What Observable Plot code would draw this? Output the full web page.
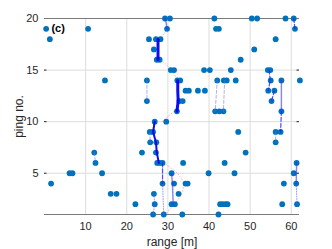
<!DOCTYPE html>
<html>
<head>
<meta charset="utf-8">
<script src="https://cdn.jsdelivr.net/npm/d3@7"></script>
<script src="https://cdn.jsdelivr.net/npm/@observablehq/plot@0.6"></script>
<style>
  html, body { margin: 0; padding: 0; background: #fff; }
</style>
</head>
<body>
<div id="chart"></div>
<script>
// ---- data ----
const pings = [20,19,18,17,16,15,14,13,12,11,10,9,8,7,6,5,4,3,2,1];
const rangesByPing = [
  [29.3, 30.5, 41.3, 50.4, 51.7, 58.6, 60.6],                    // 20
  [0.4, 10.6, 29.8, 41.7, 42.4, 60.9],                           // 19
  [1.3, 25.4, 27.1, 28.2, 56.2],                                 // 18
  [26.6, 51.0],                                                  // 17
  [27.3, 28.0, 47.7],                                            // 16
  [30.7, 31.5, 38.8, 40.2, 45.3, 54.3, 54.9],                    // 15
  [14.7, 24.9, 32.3, 33.0, 42.0, 43.6, 44.3, 46.5, 55.0, 57.6, 62.1], // 14
  [34.3, 35.1, 37.3, 39.0, 54.4, 55.9],                          // 13
  [24.9, 32.8, 33.6, 55.2],                                      // 12
  [32.2, 41.5, 42.5, 43.5, 57.6],                                // 11
  [26.8, 29.6],                                                  // 10
  [25.6, 26.4, 47.1, 56.2, 57.4],                                // 9
  [25.7, 27.2, 56.2],                                            // 8
  [12.1, 23.7, 27.1, 48.9],                                      // 7
  [12.4, 27.4, 28.0, 28.7, 33.7, 43.8, 61.3],                    // 6
  [6.1, 6.8, 14.0, 30.9, 39.9, 46.2, 60.6],                      // 5
  [1.6, 28.7, 31.5, 34.3, 34.8, 58.2, 61.2],                     // 4
  [16.1, 17.5, 26.6, 32.6],                                      // 3
  [22.1, 26.8, 30.9, 31.7, 42.7, 43.3, 44.0, 44.5, 57.8, 61.4],  // 2
  [26.4, 29.0, 33.5, 42.3]                                       // 1
];

// tracks: lists of [ping, range]
const heavyTracks = [
  [[18,27.6],[17,27.6],[16,27.6]],
  [[14,32.4],[13,32.4],[12,32.5],[11,32.2]]
];
const thickTracks = [
  [[10,26.8],[9,26.4],[8,27.1],[7,27.3],[6,27.8]]
];
const solidTracks = [
  [[5,30.9],[4,31.1],[3,31.2],[2,31.3]],
  [[14,57.6],[11,57.6]],
  [[6,61.3],[4,61.2]],
  [[20,29.4],[19,29.8]]
];
const dashedTracks = [
  [[11,57.6],[9,57.4]],
  [[15,54.6],[14,54.9],[13,54.4]],
  [[20,60.6],[19,60.9]],
  [[6,28.7],[4,28.7]],
  [[13,55.9],[12,55.2]]
];
const faintDashedTracks = [
  [[14,42.0],[11,41.5]],
  [[14,43.8],[11,43.5]],
  [[14,24.9],[12,24.9]],
  [[7,12.1],[6,12.4]],
  [[9,25.6],[8,25.7]],
  [[9,56.2],[8,56.2]]
];
const dottedTracks = [
  [[4,61.2],[2,61.4]],
  [[4,28.7],[1,29.0]],
  [[3,26.6],[2,26.8],[1,26.4]]
];
const pinkTracks = [
  [[19,29.8],[18,28.2]],
  [[16,28.3],[15,30.9],[14,32.3]],
  [[11,31.5],[10,28.6]],
  [[6,29.0],[5,32.3],[4,33.8],[3,33.3],[2,31.6],[1,29.3]]
];

const xTicks = [10, 20, 30, 40, 50, 60];
const yTicks = [5, 10, 15, 20];

// ---- build tables ----
const detections = pings.flatMap((p, i) => rangesByPing[i].map(r => ({ping: p, range: r})));
const toRows = (tracks) => tracks.flatMap((t, k) => t.map(([p, r]) => ({track: k, ping: p, range: r})));

const font = "'Liberation Sans', Arial, Helvetica, sans-serif";

const chart = Plot.plot({
  width: 332,
  height: 249,
  marginLeft: 44,
  marginRight: 33,
  marginTop: 18,
  marginBottom: 35,
  style: {fontFamily: font, fontSize: "11px", color: "#262626", background: "#fff"},
  x: {domain: [0, 62]},
  y: {domain: [1, 20]},
  marks: [
    Plot.gridX(xTicks, {stroke: "#dcdcdc", strokeOpacity: 1}),
    Plot.gridY(yTicks, {stroke: "#dcdcdc", strokeOpacity: 1}),
    Plot.ruleY([20, 1], {stroke: "#7a7a7a", strokeWidth: 1}),
    Plot.ruleY(yTicks.filter(d => d > 1 && d < 20), {x1: 0, x2: 0.6, stroke: "#262626"}),
    Plot.ruleY(yTicks.filter(d => d > 1 && d < 20), {x1: 61.4, x2: 62, stroke: "#262626"}),
    Plot.axisX(xTicks, {tickSize: 0, tickPadding: 8, fontSize: 11, fill: "#262626",
      label: null}),
    Plot.axisY(yTicks, {tickSize: 0, tickPadding: 6, fontSize: 11, fill: "#262626",
      label: null}),
    Plot.axisX({ticks: [], tickSize: 0, label: "range [m]", labelAnchor: "center", labelArrow: "none",
      labelOffset: 31, fontSize: 12, fill: "#262626"}),
    Plot.axisY({ticks: [], tickSize: 0, label: "ping no.", labelAnchor: "center", labelArrow: "none",
      labelOffset: 30, fontSize: 12, fill: "#262626"}),
    Plot.line(toRows(pinkTracks), {x: "range", y: "ping", z: "track", stroke: "#ff6666",
      strokeOpacity: 0.45, strokeWidth: 1, strokeDasharray: "1,2", curve: "catmull-rom"}),
    Plot.dot(detections, {x: "range", y: "ping", r: 2.9, fill: "#0072BD", stroke: "none"}),
    Plot.line(toRows(faintDashedTracks), {x: "range", y: "ping", z: "track", stroke: "#6a6aff",
      strokeOpacity: 0.55, strokeWidth: 1, strokeDasharray: "3,2"}),
    Plot.line(toRows(dottedTracks), {x: "range", y: "ping", z: "track", stroke: "#5a5aff",
      strokeOpacity: 0.6, strokeWidth: 1, strokeDasharray: "1,1.5"}),
    Plot.line(toRows(dashedTracks), {x: "range", y: "ping", z: "track", stroke: "#2020ff",
      strokeOpacity: 0.8, strokeWidth: 1.2, strokeDasharray: "4,2"}),
    Plot.line(toRows(solidTracks), {x: "range", y: "ping", z: "track", stroke: "#3030ff",
      strokeOpacity: 0.6, strokeWidth: 1.4}),
    Plot.line(toRows(thickTracks), {x: "range", y: "ping", z: "track", stroke: "#0000ee",
      strokeOpacity: 0.95, strokeWidth: 2}),
    Plot.line(toRows(heavyTracks), {x: "range", y: "ping", z: "track", stroke: "#0000ee",
      strokeOpacity: 0.95, strokeWidth: 3}),
    Plot.text(["(c)"], {x: 0.7, y: 19, text: d => d, textAnchor: "start", fontWeight: "bold",
      fontSize: 11, fill: "#000", dx: 4})
  ]
});
document.getElementById("chart").appendChild(chart);
</script>
</body>
</html>
